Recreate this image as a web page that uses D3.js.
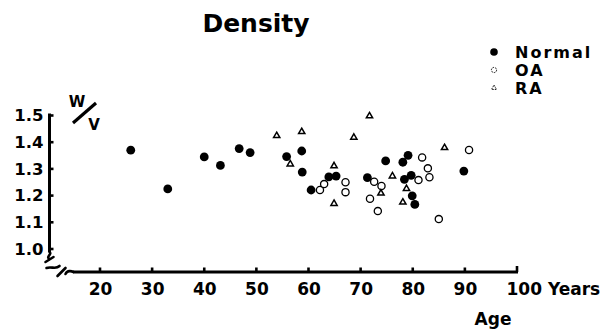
<!DOCTYPE html>
<html>
<head>
<meta charset="utf-8">
<script src="https://cdn.jsdelivr.net/npm/d3@7"></script>
<style>
    body { margin: 0; background: #fff; }
    text { font-family: "DejaVu Sans", sans-serif; font-weight: bold; fill: #000; }
</style>
</head>
<body>
<svg id="chart" width="607" height="329"></svg>
<script>
"use strict";

// values
const normalAge = [25.9, 33.0, 40.0, 43.1, 46.7, 48.8, 55.8, 58.7, 58.8, 60.5, 63.9, 65.3, 71.3, 74.8, 78.1, 79.1, 78.4, 79.7, 79.9, 80.4, 89.8];
const normalDensity = [1.37, 1.225, 1.345, 1.313, 1.376, 1.361, 1.346, 1.367, 1.288, 1.221, 1.27, 1.273, 1.267, 1.33, 1.325, 1.351, 1.261, 1.276, 1.199, 1.167, 1.292];

const oaAge = [62.2, 63.0, 67.1, 67.1, 72.6, 74.0, 71.8, 73.3, 81.1, 82.9, 83.2, 81.8, 85.0, 90.8];
const oaDensity = [1.221, 1.243, 1.25, 1.213, 1.252, 1.236, 1.188, 1.142, 1.258, 1.302, 1.269, 1.343, 1.112, 1.371];

const raAge = [53.9, 58.7, 56.5, 64.9, 64.9, 68.7, 71.7, 76.1, 73.9, 78.8, 78.1, 86.1];
const raDensity = [1.424, 1.439, 1.318, 1.311, 1.17, 1.418, 1.498, 1.273, 1.209, 1.226, 1.175, 1.379];

const xTicks = [20, 30, 40, 50, 60, 70, 80, 90, 100];
const yTicks = [1.0, 1.1, 1.2, 1.3, 1.4, 1.5];
const legendNames = ["Normal", "OA", "RA"];

const svg = d3.select("#chart");

const x = d3.scaleLinear().domain([20, 100]).range([100, 517]);
const y = d3.scaleLinear().domain([1.0, 1.5]).range([249, 115.5]);
const axisY = 272;
const axisX = 49.5;

function zip(a, b) {
    return a.map((v, i) => ({ age: v, val: b[i] }));
}

// title
svg.append("text")
    .attr("x", 256)
    .attr("y", 32)
    .attr("text-anchor", "middle")
    .style("font-size", "25px")
    .text("Density");

// x axis labels
const xAxis = svg.append("g")
    .attr("transform", `translate(0,${axisY})`)
    .call(d3.axisBottom(x)
        .tickValues(xTicks)
        .tickSize(0)
        .tickSizeOuter(0)
        .tickPadding(11)
        .tickFormat(d => d === 100 ? "100 Years" : d));
xAxis.select(".domain").remove();
xAxis.selectAll(".tick line").remove();
xAxis.selectAll(".tick text")
    .style("font-size", "17px");
xAxis.selectAll(".tick").filter(d => d === 100).select("text")
    .attr("text-anchor", "start")
    .attr("x", -11);

// y axis labels
const yAxis = svg.append("g")
    .attr("transform", `translate(${axisX},0)`)
    .call(d3.axisLeft(y)
        .tickValues(yTicks)
        .tickSize(0)
        .tickSizeOuter(0)
        .tickPadding(6)
        .tickFormat(d3.format(".1f")));
yAxis.select(".domain").remove();
yAxis.selectAll(".tick line").remove();
yAxis.selectAll(".tick text")
    .style("font-size", "16.5px");

// axis break marks
const brk = svg.append("g")
    .attr("fill", "none")
    .attr("stroke", "#000")
    .attr("stroke-width", 2.6)
    .attr("stroke-linecap", "round");
brk.append("path").attr("d", `M${axisX},252 C${axisX + 3},254 ${axisX - 4},257 ${axisX},259`);
brk.append("path").attr("d", `M${axisX - 4},262 L${axisX + 4},257`);
brk.append("path").attr("d", `M${axisX - 3},268 C${axisX + 2},266 ${axisX + 6},270 ${axisX + 10},266`);
brk.append("path").attr("d", `M${axisX + 8},276 L${axisX + 16},268`);
brk.append("path").attr("d", `M${axisX + 16},274 C${axisX + 18},270 ${axisX + 22},271 ${axisX + 24},${axisY}`);

// W / V label
svg.append("text").attr("x", 77).attr("y", 107).attr("text-anchor", "middle")
    .style("font-size", "15px").text("W");
svg.append("line")
    .attr("x1", 73).attr("y1", 123)
    .attr("x2", 96).attr("y2", 103)
    .attr("stroke", "#000")
    .attr("stroke-width", 3.2);
svg.append("text").attr("x", 94).attr("y", 130).attr("text-anchor", "middle")
    .style("font-size", "15px").text("V");

// Age label
svg.append("text")
    .attr("x", 493)
    .attr("y", 325)
    .attr("text-anchor", "middle")
    .style("font-size", "17px")
    .text("Age");

const tri = d3.symbol().type(d3.symbolTriangle).size(17);

// OA (open circles)
svg.append("g").selectAll("circle")
    .data(zip(oaAge, oaDensity))
    .join("circle")
    .attr("cx", d => x(d.age))
    .attr("cy", d => y(d.val))
    .attr("r", 3.6)
    .attr("fill", "#fff")
    .attr("stroke", "#000")
    .attr("stroke-width", 1.3);

// Normal (filled circles)
svg.append("g").selectAll("circle")
    .data(zip(normalAge, normalDensity))
    .join("circle")
    .attr("cx", d => x(d.age))
    .attr("cy", d => y(d.val))
    .attr("r", 4.4)
    .attr("fill", "#000");

// RA (open triangles)
svg.append("g").selectAll("path")
    .data(zip(raAge, raDensity))
    .join("path")
    .attr("transform", d => `translate(${x(d.age)},${y(d.val)})`)
    .attr("d", tri)
    .attr("fill", "#fff")
    .attr("stroke", "#000")
    .attr("stroke-width", 1.5);

// legend
const legend = svg.append("g").attr("transform", "translate(494,52)");
const rows = legend.selectAll("g")
    .data(legendNames)
    .join("g")
    .attr("transform", (d, i) => `translate(0,${i * 18})`);

rows.each(function (d, i) {
    const g = d3.select(this);
    if (i === 0) {
        g.append("circle").attr("r", 3.8).attr("fill", "#000");
    } else if (i === 1) {
        g.append("circle").attr("r", 2.6).attr("fill", "none")
            .attr("stroke", "#000").attr("stroke-width", 0.9)
            .attr("stroke-dasharray", "1.6,1");
    } else {
        g.append("path").attr("d", d3.symbol().type(d3.symbolTriangle).size(11))
            .attr("fill", "none").attr("stroke", "#000").attr("stroke-width", 0.9)
            .attr("stroke-dasharray", "1.6,1");
    }
    g.append("text")
        .attr("x", 21)
        .attr("y", 6)
        .style("font-size", "16px")
        .style("letter-spacing", "2px")
        .text(d);
});

// axis lines and tick nubs, drawn last so nothing covers them
const axes = svg.append("g").attr("stroke", "#000");
axes.append("line")
    .attr("x1", x.range()[0] - 27).attr("x2", x.range()[1] + 1)
    .attr("y1", axisY).attr("y2", axisY)
    .attr("stroke-width", 3);
axes.append("line")
    .attr("x1", axisX).attr("x2", axisX)
    .attr("y1", y.range()[1] - 2).attr("y2", y.range()[0] + 3)
    .attr("stroke-width", 3);
axes.selectAll(".xnub")
    .data(xTicks)
    .join("line")
    .attr("class", "xnub")
    .attr("x1", d => x(d)).attr("x2", d => x(d))
    .attr("y1", axisY).attr("y2", d => axisY - (d === 100 ? 6 : 4.5))
    .attr("stroke-width", 2.6);
axes.selectAll(".ynub")
    .data(yTicks)
    .join("line")
    .attr("class", "ynub")
    .attr("x1", axisX).attr("x2", axisX + 4)
    .attr("y1", d => y(d)).attr("y2", d => y(d))
    .attr("stroke-width", 2.6);
</script>
</body>
</html>
